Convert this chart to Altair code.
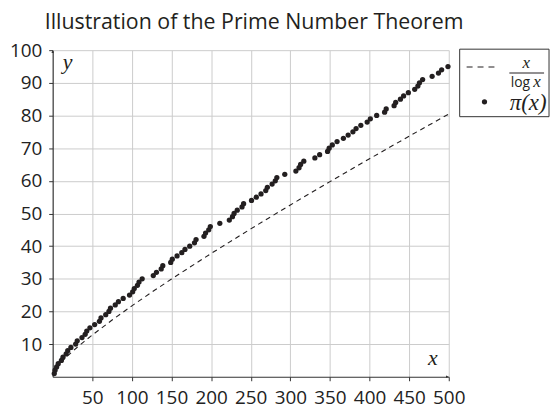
import altair as alt
import pandas as pd

# ---- data ----
primes = [2, 3, 5, 7, 11, 13, 17, 19, 23, 29, 31, 37, 41, 43, 47, 53, 59, 61, 67, 71,
          73, 79, 83, 89, 97, 101, 103, 107, 109, 113, 127, 131, 137, 139, 149, 151,
          157, 163, 167, 173, 179, 181, 191, 193, 197, 199, 211, 223, 227, 229, 233,
          239, 241, 251, 257, 263, 269, 271, 277, 281, 283, 293, 307, 311, 313, 317,
          331, 337, 347, 349, 353, 359, 367, 373, 379, 383, 389, 397, 401, 409, 419,
          421, 431, 433, 439, 443, 449, 457, 461, 463, 467, 479, 487, 491, 499]
prime_count = list(range(1, len(primes) + 1))

curve_x = [2, 3, 4, 5, 6, 8, 10, 15, 20, 30, 40, 50, 75, 100, 125, 150, 200, 250,
           300, 350, 400, 450, 500]
curve_y = [2.885, 2.731, 2.885, 3.107, 3.349, 3.847, 4.343, 5.539, 6.676, 8.820,
           10.843, 12.781, 17.371, 21.715, 25.889, 29.936, 37.748, 45.278, 52.597,
           59.748, 66.762, 73.659, 80.455]

x_ticks = [50, 100, 150, 200, 250, 300, 350, 400, 450, 500]
y_ticks = [10, 20, 30, 40, 50, 60, 70, 80, 90, 100]

title_text = "Illustration of the Prime Number Theorem"

W, H = 399, 329
SANS = "Open Sans"
SERIF = "Liberation Serif"
INK = "#231f20"

pts = pd.DataFrame({"x": primes, "y": prime_count})
curve = pd.DataFrame({"x": curve_x, "y": curve_y})
one = pd.DataFrame({"k": [0]})

xs = alt.Scale(domain=[0, 500], nice=False, zero=False)
ys = alt.Scale(domain=[0, 100], nice=False, zero=False)

x_axis = alt.Axis(values=x_ticks, grid=True, labelOverlap=False, labelFlush=False,
                  labelPadding=8, tickSize=4)
y_axis = alt.Axis(values=y_ticks, grid=True, labelOverlap=False, labelFlush=False,
                  labelPadding=7, tickSize=4)

X = alt.X("x:Q", scale=xs, axis=x_axis, title=None)
Y = alt.Y("y:Q", scale=ys, axis=y_axis, title=None)

curve_layer = alt.Chart(curve).mark_line(
    color=INK, strokeWidth=1.1, strokeDash=[5, 4]
).encode(x=X, y=Y)

pts_layer = alt.Chart(pts).mark_circle(size=28, color=INK, opacity=1).encode(
    x=X, y=Y
)

# axis arrows
arrow_up = alt.Chart(pd.DataFrame({"x": [0], "y": [100]})).mark_point(
    shape="M0,0 L-0.6,1.4 L0.6,1.4 Z", filled=True, color="#333333", size=16,
    opacity=1, clip=False
).encode(x=X, y=Y)
arrow_right = alt.Chart(pd.DataFrame({"x": [500], "y": [0]})).mark_point(
    shape="M0,0 L-1.4,-0.6 L-1.4,0.6 Z", filled=True, color="#333333", size=16,
    opacity=1, clip=False
).encode(x=X, y=Y)


def txt(s, x, y, font=SANS, size=16, style="normal", align="center",
        baseline="middle"):
    return alt.Chart(one).mark_text(
        text=s, font=font, fontSize=size, fontStyle=style, align=align,
        baseline=baseline, color=INK
    ).encode(x=alt.value(x), y=alt.value(y))


title_layer = txt(title_text, -8, -21, size=21.5, align="left",
                  baseline="alphabetic")
y_label = txt("y", 15, 12, font=SERIF, size=22, style="italic")
x_label = txt("x", 383, 310, font=SERIF, size=22, style="italic")

# custom legend
box = alt.Chart(one).mark_rect(fill="white", stroke="#333333", strokeWidth=1).encode(
    x=alt.value(410), x2=alt.value(500), y=alt.value(-1), y2=alt.value(67)
)
leg_dash = alt.Chart(one).mark_rule(color=INK, strokeWidth=1.1,
                                    strokeDash=[6, 5]).encode(
    x=alt.value(417), x2=alt.value(449), y=alt.value(17)
)
frac_bar = alt.Chart(one).mark_rule(color=INK, strokeWidth=1).encode(
    x=alt.value(460), x2=alt.value(495), y=alt.value(23)
)
frac_num = txt("x", 477, 13, font=SERIF, size=17, style="italic")
frac_log = txt("log", 481, 33, size=14, align="right")
frac_x = txt("x", 484, 32, font=SERIF, size=17, style="italic", align="left")
leg_dot = alt.Chart(one).mark_circle(size=28, color=INK, opacity=1).encode(
    x=alt.value(435), y=alt.value(52)
)
leg_pi = txt("π(x)", 479, 53, font=SERIF, size=23, style="italic")

chart = alt.layer(
    curve_layer, pts_layer, arrow_up, arrow_right, title_layer, y_label, x_label,
    box, leg_dash, frac_bar, frac_num, frac_log, frac_x, leg_dot, leg_pi
).properties(
    width=W, height=H,
    autosize=alt.AutoSizeParams(type="none"),
    padding={"left": 45, "top": 41, "right": 104, "bottom": 34},
).configure_view(
    stroke=None
).configure_axis(
    gridColor="#cccccc", gridWidth=1, domainColor="#333333", domainWidth=1.2,
    tickColor="#333333", labelFont=SANS, labelFontSize=19, labelColor="#222222",
    labelOverlap=False, labelFlush=False
)

chart.save("out.html", embed_options={"renderer": "svg", "actions": False})
